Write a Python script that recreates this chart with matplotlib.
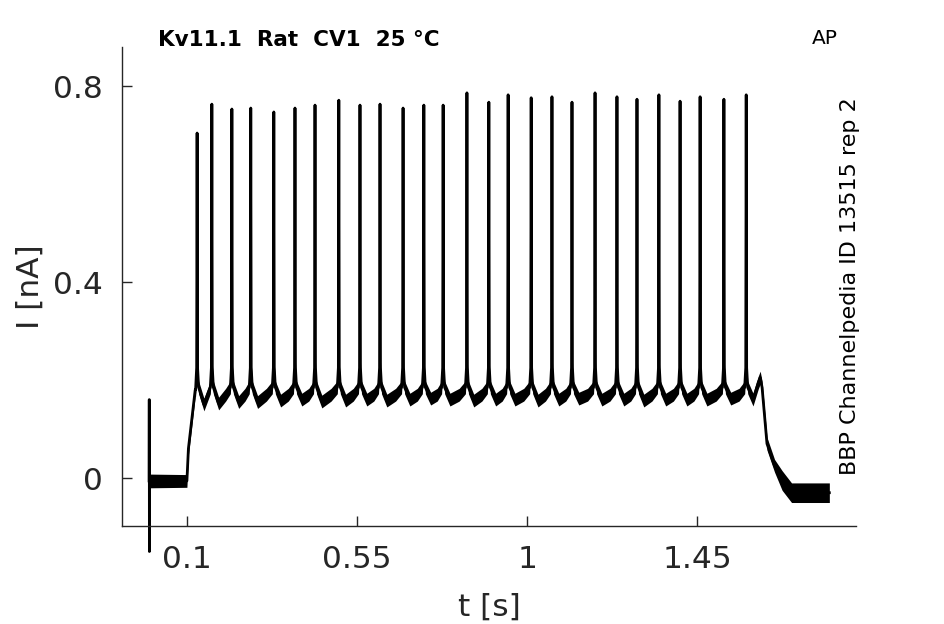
import numpy as np
import matplotlib
matplotlib.use("Agg")
import matplotlib.pyplot as plt

# spike times [s] and peak currents [nA]
spike_t = [0.127, 0.166, 0.219, 0.269, 0.330, 0.386, 0.439, 0.502, 0.558,
           0.611, 0.672, 0.727, 0.778, 0.841, 0.899, 0.950, 1.011, 1.066,
           1.119, 1.180, 1.238, 1.291, 1.349, 1.405, 1.458, 1.521, 1.580]
spike_peak = [0.704, 0.763, 0.753, 0.755, 0.747, 0.755, 0.761, 0.771, 0.761,
              0.763, 0.755, 0.761, 0.761, 0.786, 0.767, 0.782, 0.776, 0.778,
              0.767, 0.786, 0.778, 0.773, 0.782, 0.769, 0.778, 0.773, 0.782]
trough = [0.185, 0.150, 0.152, 0.155, 0.155, 0.158, 0.160, 0.156, 0.158,
          0.160, 0.158, 0.160, 0.162, 0.160, 0.158, 0.160, 0.160, 0.158,
          0.160, 0.162, 0.160, 0.160, 0.158, 0.160, 0.160, 0.160, 0.162]

# holding / step / tail segments (t, I)
head_t = [0.0, 0.0004, 0.0008, 0.0012, 0.1, 0.104, 0.113, 0.122]
head_i = [-0.006, 0.16, -0.15, -0.006, -0.006, 0.06, 0.12, 0.18]
tail_t = [1.598, 1.612, 1.617, 1.622, 1.635, 1.655, 1.675, 1.70, 1.80]
tail_i = [0.160, 0.195, 0.205, 0.185, 0.07, 0.025, -0.005, -0.03, -0.03]

xticks = [0.1, 0.55, 1, 1.45]
xticklabels = ["0.1", "0.55", "1", "1.45"]
yticks = [0, 0.4, 0.8]
yticklabels = ["0", "0.4", "0.8"]

# assemble trace: line (with peaks) and noise envelope (without peaks)
t_line, i_line = list(head_t), list(head_i)
t_env, i_env = list(head_t[3:]), list(head_i[3:])
for k, (ts, pk) in enumerate(zip(spike_t, spike_peak)):
    pre = 0.185 if k > 0 else 0.18
    seg_t = [ts - 0.004, ts - 0.0012, ts, ts + 0.0012, ts + 0.004, ts + 0.018]
    seg_i = [pre, 0.225, pk, 0.225, 0.185, trough[k + 1] if k + 1 < len(trough) else 0.16]
    if k + 1 < len(spike_t):
        nxt = spike_t[k + 1]
        mid = ts + 0.018 + (nxt - ts - 0.022) * 0.6
        seg_t.append(mid)
        seg_i.append(0.170)
    if k == 0:
        seg_i[-1] = 0.185
        seg_t = seg_t[:-1]
        seg_i = seg_i[:-1]
    t_line += seg_t
    i_line += seg_i
    t_env += [x for j, x in enumerate(seg_t) if j != 2]
    i_env += [x for j, x in enumerate(seg_i) if j != 2]
t_line += tail_t
i_line += tail_i
t_env += tail_t
i_env += tail_i

t_env = np.array(t_env)
i_env = np.array(i_env)
hw = np.where(t_env < 0.1, 0.014, np.where(t_env > 1.66, 0.02, 0.013))

fig = plt.figure(figsize=(9.45, 6.24), dpi=100)
ax = fig.add_axes([0.129, 0.157, 0.777, 0.768])

ax.fill_between(t_env, i_env - hw, i_env + hw, color="black", lw=0)
ax.plot(t_line, i_line, color="black", lw=2, clip_on=False)

ax.set_xlim(-0.072, 1.871)
ax.set_ylim(-0.098, 0.880)
ax.set_xticks(xticks)
ax.set_xticklabels(xticklabels)
ax.set_yticks(yticks)
ax.set_yticklabels(yticklabels)
ax.tick_params(direction="in", length=7, width=1, labelsize=22.5,
               labelcolor="#262626", pad=14, color="#262626")
for side in ("top", "right"):
    ax.spines[side].set_visible(False)
for side in ("left", "bottom"):
    ax.spines[side].set_color("#262626")
    ax.spines[side].set_linewidth(1)

ax.set_xlabel("t [s]", fontsize=22.5, color="#262626", labelpad=13)
ax.set_ylabel("I [nA]", fontsize=22.5, color="#262626", labelpad=6)

fig.text(0.167, 0.936, "Kv11.1  Rat  CV1  25 °C", fontsize=15.5, fontweight="bold",
         ha="left", va="center")
fig.text(0.873, 0.939, "AP", fontsize=14.5, ha="center", va="center")
fig.text(0.899, 0.542, "BBP Channelpedia ID 13515 rep 2", fontsize=16,
         rotation=90, ha="center", va="center")

fig.savefig("out.png", dpi=100)
